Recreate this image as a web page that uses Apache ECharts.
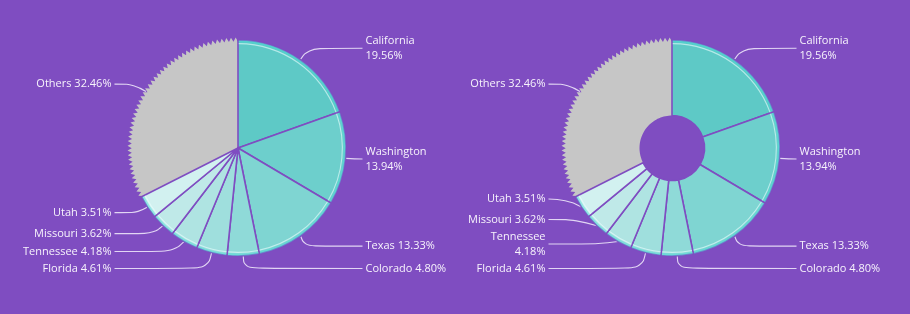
<!DOCTYPE html>
<html><head><meta charset="utf-8">
<script src="https://cdn.jsdelivr.net/npm/echarts@6/dist/echarts.min.js"></script>
<style>html,body{margin:0;padding:0;background:#7f4dc1}#c{width:910px;height:314px}</style>
</head><body><div id="c"></div>
<script>
// ---- data ----
const states = ['California','Washington','Texas','Colorado','Florida','Tennessee','Missouri','Utah','Others'];
const shares = [19.56, 13.94, 13.33, 4.80, 4.61, 4.18, 3.62, 3.51, 32.46];
const wrapLeftPie = ['California','Washington'];
const wrapRightPie = ['California','Washington','Tennessee'];

// ---- style ----
const BG = '#7f4dc1';
const sliceColors = ['#5ec9c6','#6dcfcc','#7fd5d2','#8fdad8','#9fdfdd','#afe4e2','#bfe9e8','#d2f1f0','#c6c6c6'];
const R = 108;
const total = shares.reduce((a,b)=>a+b,0);
const othersIdx = states.indexOf('Others');
const othersStart = shares.slice(0, othersIdx).reduce((a,b)=>a+b,0);
const othersEnd = othersStart + shares[othersIdx];

function pieData(colorFn){
  return states.map((n,i)=>({name:n, value:shares[i],
    itemStyle: n==='Others' ? {color:'rgba(0,0,0,0)', borderWidth:0} : {color: colorFn(i)}}));
}

function makePies(left, cx, inner, wrap, polarIndex){
  const absCx = left + cx;
  const main = {
    type:'pie', left:left, top:0, width:476, height:277,
    center:[cx,148], radius:[inner, R], startAngle:90, clockwise:true,
    z:2, silent:true, animation:false,
    data: pieData(i=>sliceColors[i]),
    itemStyle:{borderColor:BG, borderWidth:1.6},
    label:{show:true, position:'outside', color:'#f7f3fc', fontFamily:'Open Sans',
      fontSize:11, lineHeight:15, padding:[0,0], edgeDistance:0,
      formatter: p => p.name + (wrap.includes(p.name) ? '\n' : ' ') + p.value.toFixed(2) + '%'},
    labelLine:{show:true, length:14, length2:4, smooth:0.45,
      lineStyle:{color:'#e2d6f4', width:1.1}},
    labelLayout: function(p){
      const pts = p.labelLinePoints;
      if (!pts) return {};
      const side = pts[2][0] < absCx ? -1 : 1;
      const reach = side < 0 ? 123.5 : 124.5;
      pts[2][0] = absCx + side*reach;
      return {x: pts[2][0] + side*3, align: side<0 ? 'right':'left', labelLinePoints: pts};
    }
  };
  const rim = {
    type:'pie', left:left, top:0, width:476, height:277,
    center:[cx,148], radius:[105.6, R], startAngle:90, clockwise:true, padAngle:0.8,
    z:3, silent:true, animation:false, label:{show:false}, labelLine:{show:false},
    data: pieData(()=> 'rgba(70,220,215,0.45)')
  };
  const shine = {
    type:'pie', left:left, top:0, width:476, height:277,
    center:[cx,148], radius:[103.8, 104.9], startAngle:90, clockwise:true, padAngle:0.8,
    z:3, silent:true, animation:false, label:{show:false}, labelLine:{show:false},
    data: pieData(()=> 'rgba(235,255,255,0.6)')
  };
  const teeth = {
    type:'custom', coordinateSystem:'polar', polarIndex:polarIndex, z:1, silent:true, animation:false,
    data:[[othersStart, othersEnd]],
    renderItem: function(params, api){
      const a0 = api.value(0), a1 = api.value(1);
      const n = 48, pts = [];
      for (let i=0;i<=2*n;i++){
        const a = a0 + (a1-a0)*i/(2*n);
        pts.push(api.coord([i%2 ? 110.5 : 106.3, a]));
      }
      for (let j=40;j>=0;j--){
        pts.push(api.coord([inner, a0 + (a1-a0)*j/40]));
      }
      return {type:'polygon', shape:{points:pts}, style:{fill: sliceColors[othersIdx]}};
    }
  };
  return [teeth, main, rim, shine];
}

const chart = echarts.init(document.getElementById('c'), null, {renderer:'canvas'});
chart.setOption({
  backgroundColor: BG,
  animation:false,
  polar:[{center:[238,148], radius:110.5},{center:[672,148], radius:110.5}],
  angleAxis:[
    {polarIndex:0, type:'value', min:0, max:total, startAngle:90, clockwise:true, show:false},
    {polarIndex:1, type:'value', min:0, max:total, startAngle:90, clockwise:true, show:false}],
  radiusAxis:[
    {polarIndex:0, type:'value', min:0, max:110.5, show:false},
    {polarIndex:1, type:'value', min:0, max:110.5, show:false}],
  series: [].concat(makePies(0, 238, 0, wrapLeftPie, 0), makePies(434, 238, 32.5, wrapRightPie, 1))
});
</script></body></html>
